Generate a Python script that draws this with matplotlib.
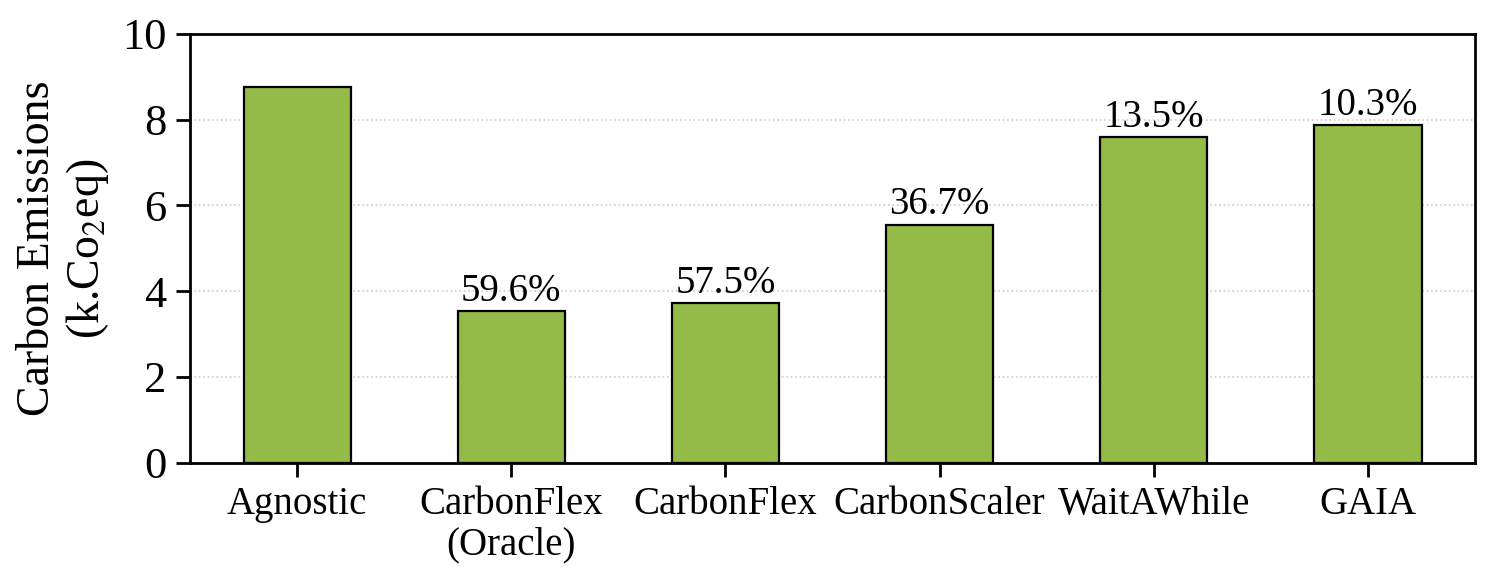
import numpy as np
import matplotlib.pyplot as plt

# values
methods = ['Agnostic', 'CarbonFlex\n(Oracle)', 'CarbonFlex', 'CarbonScaler', 'WaitAWhile', 'GAIA']
emissions = [8.76, 3.54, 3.73, 5.55, 7.59, 7.87]
savings = ['', '59.6%', '57.5%', '36.7%', '13.5%', '10.3%']

plt.rcParams['font.family'] = ['Liberation Serif', 'DejaVu Serif']
plt.rcParams['mathtext.fontset'] = 'stix'

fig, ax = plt.subplots(figsize=(7.48, 2.925), dpi=200)
x = np.arange(len(methods))
bars = ax.bar(x, emissions, width=0.5, color='#94BA48', edgecolor='black', linewidth=0.8, zorder=3)

for b, s in zip(bars, savings):
    if s:
        ax.text(b.get_x() + b.get_width() / 2, b.get_height() + 0.03, s,
                ha='center', va='bottom', fontsize=14)

ax.set_xticks(x)
ax.set_xticklabels(methods, fontsize=14, linespacing=1.1)
ax.set_ylim(0, 10)
ax.set_xlim(-0.5, 5.5)
ax.set_yticks([0, 2, 4, 6, 8, 10])
ax.tick_params(axis='y', labelsize=16, length=5, width=1)
ax.tick_params(axis='x', length=5, width=1)
ax.set_ylabel('Carbon Emissions\n(k.Co$_2$eq)', fontsize=16.5, linespacing=1.15)
ax.grid(axis='y', linestyle=':', color='#cccccc', linewidth=0.6, zorder=0)
for sp in ax.spines.values():
    sp.set_linewidth(1.0)

fig.subplots_adjust(left=0.127, right=0.986, top=0.942, bottom=0.209)
fig.savefig('out.png', dpi=200)
